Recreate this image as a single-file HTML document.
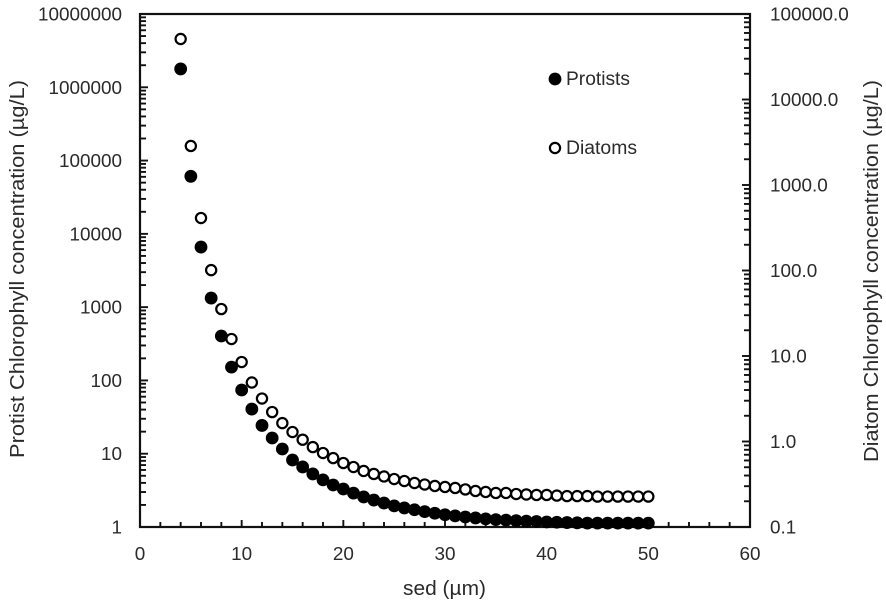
<!DOCTYPE html>
<html>
<head>
<meta charset="utf-8">
<title>Chlorophyll concentration by sed</title>
<style>
html,body{margin:0;padding:0;background:#fff;}
svg{display:block;}
text{font-family:"Liberation Sans",sans-serif;fill:#2b2b2b;}
</style>
</head>
<body>
<svg id="chart" width="886" height="602" viewBox="0 0 886 602" xmlns="http://www.w3.org/2000/svg">
  <rect x="0" y="0" width="886" height="602" fill="#fff"/>
  <g id="ticks"></g>
  <g id="labels"></g>
  <rect x="140" y="14" width="610" height="513" fill="none" stroke="#111" stroke-width="2.2"/>
  <g id="protists"></g>
  <g id="diatoms"></g>
  <text transform="translate(24,458) rotate(-90)" font-size="20" textLength="378" lengthAdjust="spacingAndGlyphs">Protist Chlorophyll concentration (µg/L)</text>
  <text transform="translate(878,462) rotate(-90)" font-size="20" textLength="382" lengthAdjust="spacingAndGlyphs">Diatom Chlorophyll concentration (µg/L)</text>
  <text x="403" y="595" font-size="20" textLength="83" lengthAdjust="spacingAndGlyphs">sed (µm)</text>
  <circle cx="555" cy="79" r="6.4" fill="#000"/>
  <text x="566" y="85" font-size="19" textLength="64" lengthAdjust="spacingAndGlyphs">Protists</text>
  <circle cx="555" cy="148" r="5.1" fill="#fff" stroke="#000" stroke-width="2.2"/>
  <text x="566" y="154" font-size="19" textLength="71" lengthAdjust="spacingAndGlyphs">Diatoms</text>
</svg>
<script>
const sedValues = [4,5,6,7,8,9,10,11,12,13,14,15,16,17,18,19,20,21,22,23,24,25,26,27,28,29,30,31,32,33,34,35,36,37,38,39,40,41,42,43,44,45,46,47,48,49,50];
const protistValues = [1780000,61000,6600,1330,404,152,74,40.7,24.3,16.4,11.6,8.2,6.6,5.3,4.4,3.74,3.3,2.9,2.57,2.33,2.12,1.94,1.82,1.72,1.62,1.54,1.47,1.42,1.37,1.33,1.29,1.26,1.24,1.22,1.2,1.19,1.17,1.16,1.15,1.14,1.13,1.13,1.13,1.13,1.13,1.13,1.13];
const diatomValues = [51000,2860,411,101,35.4,15.8,8.5,4.9,3.18,2.21,1.64,1.29,1.05,0.86,0.733,0.64,0.56,0.503,0.452,0.417,0.39,0.364,0.345,0.327,0.314,0.302,0.294,0.286,0.275,0.264,0.257,0.25,0.25,0.243,0.24,0.237,0.237,0.233,0.23,0.23,0.23,0.227,0.227,0.227,0.227,0.227,0.227];
const xTickLabels = ["0","10","20","30","40","50","60"];
const leftTickLabels = ["1","10","100","1000","10000","100000","1000000","10000000"];
const rightTickLabels = ["0.1","1.0","10.0","100.0","1000.0","10000.0","100000.0"];

const NS = 'http://www.w3.org/2000/svg';
const plot = {left:140, right:750, top:14, bottom:527};
const xMax = 60;
const leftMin = 1, leftMax = 10000000;
const rightMin = 0.1, rightMax = 100000;

function xScale(v){ return plot.left + v/xMax*(plot.right-plot.left); }
function logScale(v,min,max){
  return plot.bottom - (Math.log10(v)-Math.log10(min))/(Math.log10(max)-Math.log10(min))*(plot.bottom-plot.top);
}
function yLeft(v){ return logScale(v,leftMin,leftMax); }
function yRight(v){ return logScale(v,rightMin,rightMax); }

const ticks = document.getElementById('ticks');
const labels = document.getElementById('labels');

function tick(x1,y1,x2,y2){
  const t = document.createElementNS(NS,'line');
  
  
  t.setAttribute('x1',x1);
  t.setAttribute('y1',y1);
  t.setAttribute('x2',x2);
  t.setAttribute('y2',y2);
  t.setAttribute('stroke','#111');
  t.setAttribute('stroke-width','1.9');
  ticks.appendChild(t);
}
function label(str,x,y,anchor){
  const t = document.createElementNS(NS,'text');
  
  
  t.setAttribute('x',x);
  t.setAttribute('y',y);
  t.setAttribute('text-anchor',anchor);
  t.setAttribute('font-size','18.9');
  t.textContent = str;
  labels.appendChild(t);
}

for(let v=0; v<=xMax; v+=2){
  const major = v%10===0;
  tick(xScale(v),plot.bottom,xScale(v),plot.bottom-(major?7:5));
}
xTickLabels.forEach(function(s){
  label(s,xScale(Number(s)),560,'middle');
});
leftTickLabels.forEach(function(s,i){
  const base = Number(s);
  label(s,122,yLeft(base)+6.5,'end');
  if(i<leftTickLabels.length-1){
    for(let m=1;m<=9;m++){
      tick(plot.left,yLeft(base*m),plot.left+(m===1?8:6),yLeft(base*m));
    }
  }
});
rightTickLabels.forEach(function(s,i){
  const base = Number(s);
  label(s,770,yRight(base)+6.5,'start');
  if(i<rightTickLabels.length-1){
    for(let m=1;m<=9;m++){
      tick(plot.right,yRight(base*m),plot.right-(m===1?8:6),yRight(base*m));
    }
  }
});

const protists = document.getElementById('protists');
sedValues.forEach(function(s,i){
  const c = document.createElementNS(NS,'circle');
  
  
  c.setAttribute('cx',xScale(s));
  c.setAttribute('cy',yLeft(protistValues[i]));
  c.setAttribute('r','6.4');
  c.setAttribute('fill','#000');
  protists.appendChild(c);
});
const diatoms = document.getElementById('diatoms');
sedValues.forEach(function(s,i){
  const c = document.createElementNS(NS,'circle');
  
  
  c.setAttribute('cx',xScale(s));
  c.setAttribute('cy',yRight(diatomValues[i]));
  c.setAttribute('r','5.1');
  c.setAttribute('fill','#fff');
  c.setAttribute('stroke','#000');
  c.setAttribute('stroke-width','2.2');
  diatoms.appendChild(c);
});
</script>
</body>
</html>
